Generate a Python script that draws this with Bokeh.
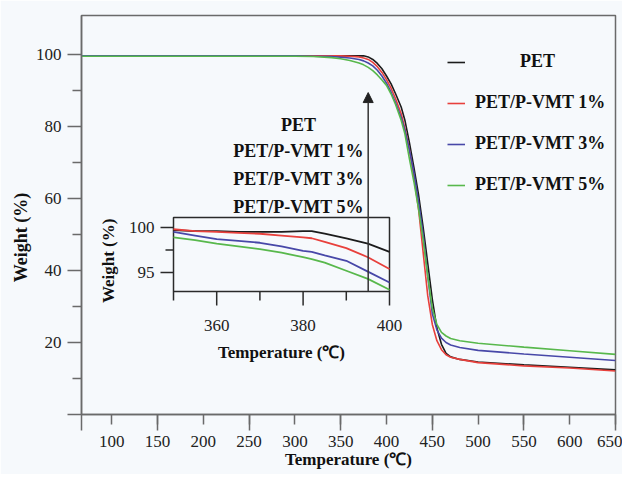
import math
from bokeh.plotting import figure
from bokeh.models import FixedTicker, Legend, LegendItem, Arrow, NormalHead, Range1d
from bokeh.core.properties import value
from bokeh.embed import file_html
from bokeh.resources import INLINE

# ---------------- data (main TGA curves) ----------------
temps = [67, 150, 250, 300, 320, 340, 350, 360, 370, 375, 380, 385, 390, 395, 400,
         405, 410, 416, 420, 425, 430, 435, 440, 445, 450, 455, 460, 465, 470, 480,
         500, 550, 600, 650]
w_pet = [99.6, 99.6, 99.6, 99.6, 99.6, 99.6, 99.6, 99.6, 99.6, 99.6, 99.3, 98.6, 97.5, 96.0, 94.0,
         91.8, 89.0, 85.4, 81.8, 75.5, 68.5, 61.0, 52.0, 42.0, 32.0, 24.0, 19.5, 17.0, 16.0, 15.3,
         14.6, 13.8, 13.1, 12.4]
w_1 = [99.6, 99.6, 99.6, 99.6, 99.6, 99.6, 99.6, 99.5, 99.3, 99.0, 98.6, 97.8, 96.6, 95.0, 93.0,
       90.6, 87.6, 83.5, 79.5, 73.5, 66.0, 57.0, 45.0, 33.0, 25.0, 20.5, 18.0, 16.6, 15.9, 15.3,
       14.4, 13.5, 12.9, 12.1]
w_3 = [99.6, 99.6, 99.6, 99.6, 99.5, 99.4, 99.2, 99.0, 98.6, 98.2, 97.6, 96.8, 95.6, 94.0, 92.0,
       89.5, 86.5, 82.5, 79.0, 73.5, 67.0, 59.0, 50.0, 38.5, 28.0, 23.5, 21.2, 20.0, 19.3, 18.6,
       17.8, 16.8, 15.9, 15.0]
w_5 = [99.5, 99.5, 99.5, 99.5, 99.4, 99.1, 98.8, 98.3, 97.6, 97.1, 96.4, 95.5, 94.3, 92.9, 91.4,
       89.0, 86.0, 81.7, 78.0, 71.0, 64.5, 57.0, 48.5, 38.5, 29.5, 25.0, 22.8, 21.8, 21.1, 20.5,
       19.8, 18.7, 17.7, 16.7]

# ---------------- data (inset, 350-400 C) ----------------
inset_temps = [350, 355, 360, 365, 370, 375, 380, 382, 385, 390, 395, 400]
inset_pet = [99.7, 99.6, 99.6, 99.5, 99.5, 99.5, 99.6, 99.6, 99.3, 98.8, 98.2, 97.3]
inset_1 = [99.8, 99.6, 99.5, 99.4, 99.3, 99.1, 98.9, 98.8, 98.4, 97.7, 96.7, 95.4]
inset_3 = [99.5, 99.1, 98.7, 98.5, 98.3, 97.9, 97.4, 97.3, 96.9, 96.3, 95.1, 93.9]
inset_5 = [98.9, 98.6, 98.2, 97.9, 97.6, 97.2, 96.7, 96.5, 96.1, 95.2, 94.3, 93.1]

labels = ["PET", "PET/P-VMT 1%", "PET/P-VMT 3%", "PET/P-VMT 5%"]
colors = ["#1c1c1c", "#e8403c", "#4848a8", "#58b84c"]

x_major = [100, 150, 200, 250, 300, 350, 400, 450, 500, 550, 600, 650]
x_long = [67, 150, 250, 350, 450, 550, 650]
y_major = [0, 20, 40, 60, 80, 100]
y_minor = [10, 30, 50, 70, 90]
inset_x_major = [360, 380, 400]
inset_x_minor = [350, 370, 390]
inset_y_major = [95, 100]
inset_y_minor = [97.5]
INSET_X = (350, 400)
INSET_Y = (92.9, 101.1)

# annotation positions (main-plot coordinates)
ARROW_T = 380.0
ARROW_W0 = 34.2
ARROW_W1 = 89.4
KEY_T = 303.9
KEY_W = [80.3, 73.3, 65.5, 57.5]

BG = "#f6f9fc"
AX = "#6a6a6a"
IAX = "#2a2a2a"
FONT = "Liberation Serif"

# ---------------- geometry ----------------
FIG_W, FIG_H = 622, 474
BL, BR, BT, BB = 81, 7, 15, 60
FRAME_W = FIG_W - BL - BR
FRAME_H = FIG_H - BT - BB
IN_LEFT, IN_W = 92, 216      # inset box, px from frame left
IN_BOTTOM, IN_H = 123, 74    # inset box, px from frame bottom

# ---------------- main figure ----------------
p = figure(width=FIG_W, height=FIG_H, x_range=(67, 650), y_range=(0, 110.8),
           output_backend="svg", toolbar_location=None,
           min_border_left=BL, min_border_right=BR, min_border_top=BT, min_border_bottom=BB,
           background_fill_color=BG, border_fill_color=BG,
           outline_line_color=AX, outline_line_width=1.5)
p.grid.visible = False

renderers = []
for w, c in zip([w_pet, w_1, w_3, w_5], colors):
    renderers.append(p.line(temps, w, line_color=c, line_width=1.6))

p.xaxis.ticker = FixedTicker(ticks=x_major, minor_ticks=x_long)
p.yaxis.ticker = FixedTicker(ticks=y_major, minor_ticks=y_minor)
p.yaxis.major_label_overrides = {0: ""}
for ax in [p.xaxis[0], p.yaxis[0]]:
    ax.axis_line_color = AX
    ax.axis_line_width = 1.5
    ax.major_tick_line_color = AX
    ax.minor_tick_line_color = AX
    ax.major_tick_line_width = 1.5
    ax.minor_tick_line_width = 1.5
    ax.major_tick_in = 0
    ax.minor_tick_in = 0
    ax.major_label_text_font = FONT
    ax.major_label_text_font_size = "17px"
    ax.major_label_text_color = "#222222"
    ax.axis_label_text_font = FONT
    ax.axis_label_text_font_style = "bold"
    ax.axis_label_text_font_size = "17px"
    ax.axis_label_text_color = "#111111"

p.xaxis.major_tick_out = 10
p.xaxis.minor_tick_out = 16
p.xaxis.major_label_standoff = 5
p.xaxis.axis_label = "Temperature (℃)"
p.xaxis.axis_label_standoff = 0

p.yaxis.major_tick_out = 14
p.yaxis.minor_tick_out = 9
p.yaxis.major_label_standoff = 6
p.yaxis.axis_label = "Weight (%)" + "\u00a0" * 10
p.yaxis.axis_label_standoff = 2
p.yaxis.axis_label_text_font_size = "18px"

legend_labels = ["\u00a0" * 10 + labels[0]] + labels[1:]
legend = Legend(items=[LegendItem(label=l, renderers=[r]) for l, r in zip(legend_labels, renderers)],
                location=(366, 219), glyph_width=18, glyph_height=20, label_height=20,
                spacing=20, padding=0, margin=0, label_standoff=10,
                label_text_font=FONT, label_text_font_style="bold",
                label_text_font_size="18px", label_text_color="#111111",
                background_fill_alpha=0, border_line_alpha=0)
p.add_layout(legend)

# ---------------- inset (drawn in the same figure on extra ranges) ----------------
sx = IN_W / (INSET_X[1] - INSET_X[0])
sy = IN_H / (INSET_Y[1] - INSET_Y[0])
ix0 = INSET_X[0] - IN_LEFT / sx
iy0 = INSET_Y[0] - IN_BOTTOM / sy
p.extra_x_ranges = {"ix": Range1d(ix0, ix0 + FRAME_W / sx)}
p.extra_y_ranges = {"iy": Range1d(iy0, iy0 + FRAME_H / sy)}
IR = dict(x_range_name="ix", y_range_name="iy")

p.quad(left=[INSET_X[0]], right=[INSET_X[1]], bottom=[INSET_Y[0]], top=[INSET_Y[1]],
       fill_color=BG, line_color=IAX, line_width=1.5, **IR)
for w, c in zip([inset_pet, inset_1, inset_3, inset_5], colors):
    p.line(inset_temps, w, line_color=c, line_width=1.8, **IR)

# inset ticks
xb = INSET_Y[0]
xl = INSET_X[0]
p.segment(x0=inset_x_major, y0=[xb] * len(inset_x_major), x1=inset_x_major,
          y1=[xb - 14 / sy] * len(inset_x_major), line_color=IAX, line_width=1.5, **IR)
p.segment(x0=inset_x_minor, y0=[xb] * len(inset_x_minor), x1=inset_x_minor,
          y1=[xb - 9 / sy] * len(inset_x_minor), line_color=IAX, line_width=1.5, **IR)
p.segment(x0=[xl] * len(inset_y_major), y0=inset_y_major, x1=[xl - 13 / sx] * len(inset_y_major),
          y1=inset_y_major, line_color=IAX, line_width=1.5, **IR)
p.segment(x0=[xl] * len(inset_y_minor), y0=inset_y_minor, x1=[xl - 8 / sx] * len(inset_y_minor),
          y1=inset_y_minor, line_color=IAX, line_width=1.5, **IR)

tick_font = dict(text_font=value(FONT), text_font_size="17px", text_color="#222222")
p.text(x=inset_x_major, y=[xb] * len(inset_x_major), text=[str(t) for t in inset_x_major],
       y_offset=34, text_align="center", text_baseline="middle", **tick_font, **IR)
p.text(x=[xl] * len(inset_y_major), y=inset_y_major, text=[str(t) for t in inset_y_major],
       x_offset=-19, text_align="right", text_baseline="middle", **tick_font, **IR)

lab_font = dict(text_font=value(FONT), text_font_style="bold", text_font_size="17px",
                text_color="#111111")
p.text(x=[(INSET_X[0] + INSET_X[1]) / 2], y=[xb], text=["Temperature (℃)"], y_offset=61,
       text_align="center", text_baseline="middle", **lab_font, **IR)
p.text(x=[xl], y=[(INSET_Y[0] + INSET_Y[1]) / 2 - 0.7], text=["Weight (%)"], x_offset=-65,
       angle=math.pi / 2, text_align="center", text_baseline="middle", **lab_font, **IR)

# inset key (text only) in main coordinates
p.text(x=[KEY_T] * 4, y=KEY_W, text=labels, text_align="center", text_baseline="middle",
       text_font=value(FONT), text_font_style="bold", text_font_size="18px", text_color="#111111")

p.add_layout(Arrow(end=NormalHead(size=10, fill_color="#222222", line_color="#222222"),
                   x_start=ARROW_T, y_start=ARROW_W0, x_end=ARROW_T, y_end=ARROW_W1,
                   line_color="#333333", line_width=1.5))

open("out.html", "w").write(file_html(p, INLINE))
